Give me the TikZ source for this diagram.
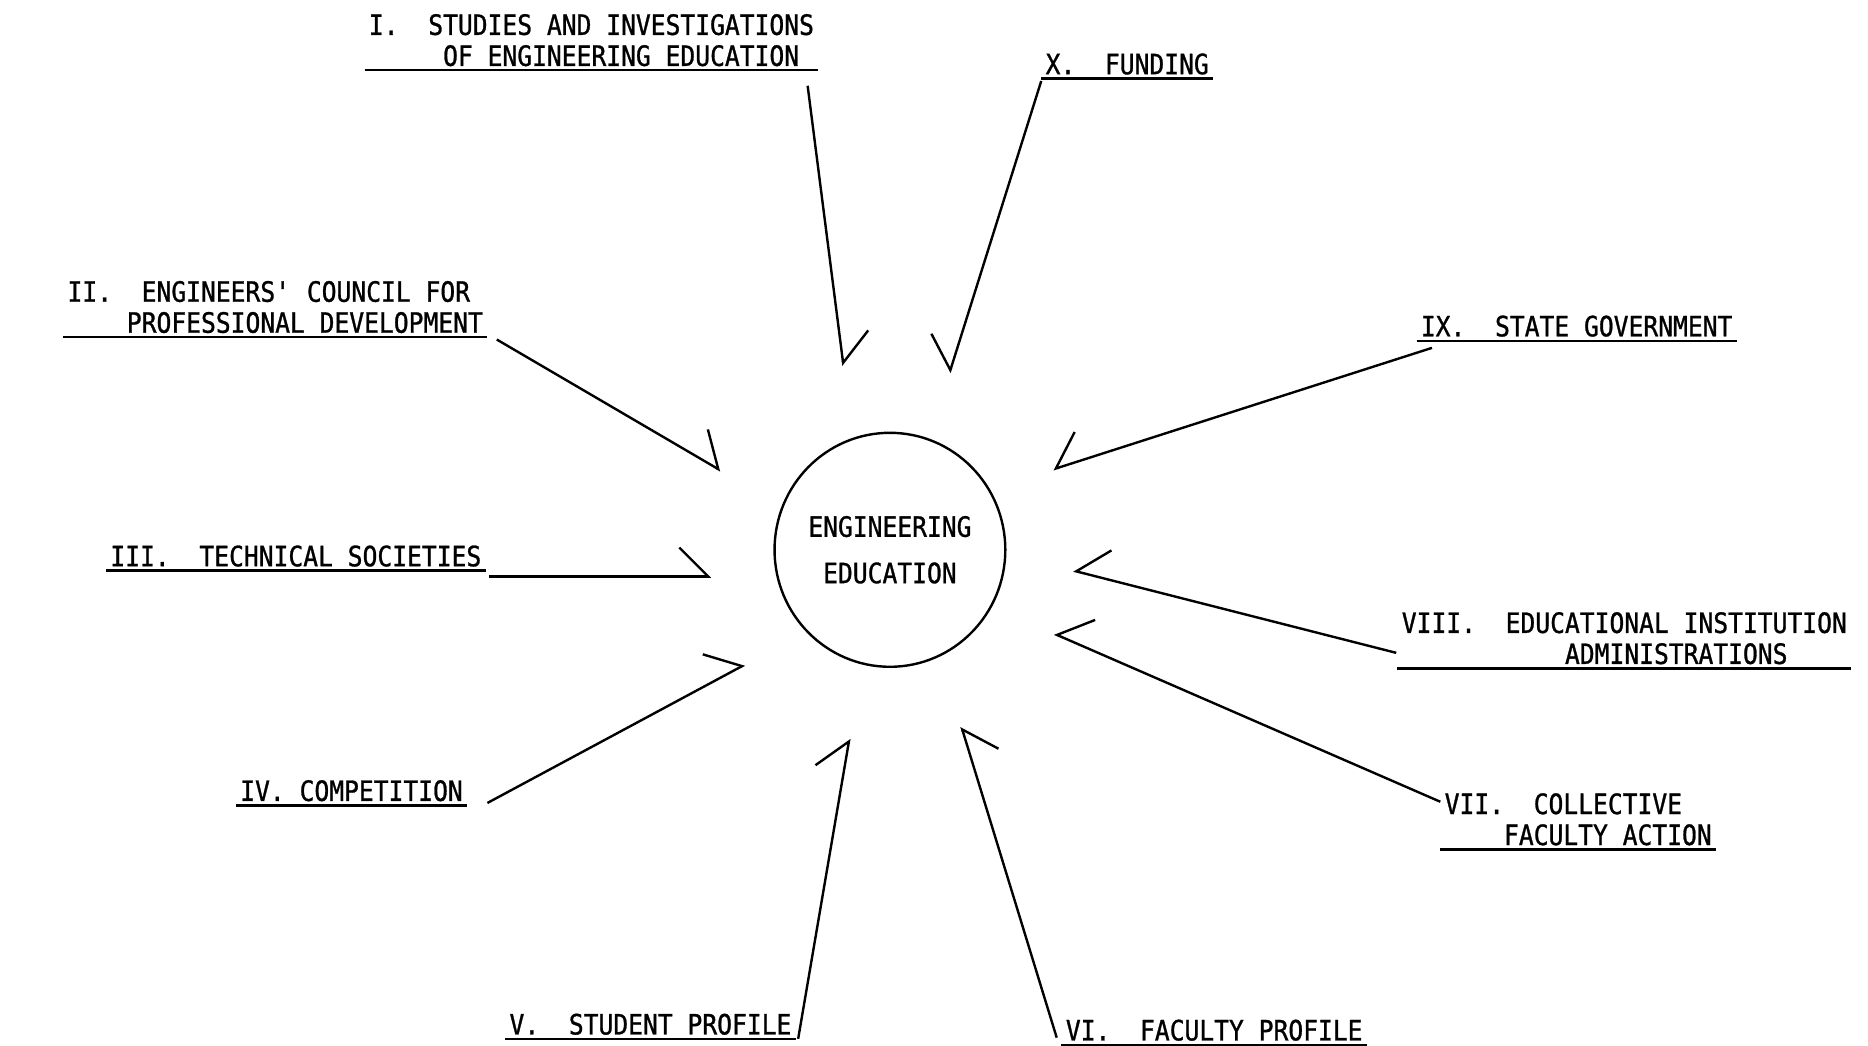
\documentclass[tikz,border=0pt]{standalone}
\usepackage{fontspec}
\usetikzlibrary{arrows.meta,calc,shapes.geometric}
\newfontfamily\typewriter[FakeStretch=0.88,FakeBold=1]{DejaVu Sans Mono}
\frenchspacing

\begin{document}
\begin{tikzpicture}[x=0.5957pt, y=-0.5957pt]
	\tikzstyle{every node}=[font=\typewriter\fontsize{14}{15.5}\selectfont]
	\tikzstyle{heading}=[align=left, inner xsep=2pt, inner ysep=2pt, text depth=0pt, anchor=south west]
	\tikzstyle{feedL}=[line width=1.2pt, -{Straight Barb[harpoon, length=14.5pt, width=29pt]}]
	\tikzstyle{feedR}=[line width=1.2pt, -{Straight Barb[harpoon, swap, length=14.5pt, width=29pt]}]
	\useasboundingbox (0,0) rectangle (1568,878);

	% centre
	\node[draw, ellipse, line width=1.2pt, minimum width=113pt, minimum height=117pt, inner sep=0pt,
		align=center, font=\typewriter\fontsize{14}{23.2}\selectfont] (EE) at (747,461.5) {ENGINEERING\\EDUCATION};

	% headings
	\node[heading] (Studies) at (306,59) {I.\ \ STUDIES AND INVESTIGATIONS\\\hphantom{00000}OF ENGINEERING EDUCATION};
	\node[heading] (Funding) at (874,66) {X.\ \ FUNDING};
	\node[heading] (Council) at (53,283) {II.\ \ ENGINEERS\textquotesingle{} COUNCIL FOR\\\hphantom{0000}PROFESSIONAL DEVELOPMENT};
	\node[heading] (Societies) at (89,479) {III.\ \ TECHNICAL SOCIETIES};
	\node[heading] (Competition) at (198,676) {IV.\ COMPETITION};
	\node[heading] (Students) at (424,872) {V.\ \ STUDENT PROFILE};
	\node[heading] (Faculty) at (891,877) {VI.\ \ FACULTY PROFILE};
	\node[heading] (Collective) at (1209,713) {VII.\ \ COLLECTIVE\\\hphantom{0000}FACULTY ACTION};
	\node[heading] (Admin) at (1173,561) {VIII.\ \ EDUCATIONAL INSTITUTION\\\hphantom{00000000000}ADMINISTRATIONS};
	\node[heading] (Government) at (1189,286) {IX.\ \ STATE GOVERNMENT};

	\foreach \n in {Studies,Funding,Council,Societies,Competition,Students,Faculty,Collective,Admin,Government}
		\draw[line width=1.2pt] (\n.south west) -- (\n.south east);

	% arrow tips round the centre
	\coordinate (tStudies) at (708,307);
	\coordinate (tFunding) at (797,313);
	\coordinate (tCouncil) at (605,395);
	\coordinate (tSocieties) at (597,484);
	\coordinate (tCompetition) at (625,558);
	\coordinate (tStudents) at (713,620);
	\coordinate (tFaculty) at (807,610);
	\coordinate (tCollective) at (885,532);
	\coordinate (tAdmin) at (901,479);
	\coordinate (tGovernment) at (884,394);

	\draw[feedL] ($(Studies.south east)+(-9,13)$) -- (tStudies);
	\draw[feedR] ($(Funding.south west)+(0,2)$) -- (tFunding);
	\draw[feedL] ($(Council.south east)+(8,2)$) -- (tCouncil);
	\draw[feedL] ($(Societies.south east)+(3,5)$) -- (tSocieties);
	\draw[feedL] ($(Competition.south east)+(17,-2)$) -- (tCompetition);
	\draw[feedL] ($(Students.south east)+(2,0)$) -- (tStudents);
	\draw[feedR] ($(Faculty.south west)+(-4,-6)$) -- (tFaculty);
	\draw[feedR] ($(Collective.south west)+(0,-40)$) -- (tCollective);
	\draw[feedR] ($(Admin.south west)+(-1,-13)$) -- (tAdmin);
	\draw[feedR] ($(Government.south west)+(13,6)$) -- (tGovernment);
\end{tikzpicture}
\end{document}
